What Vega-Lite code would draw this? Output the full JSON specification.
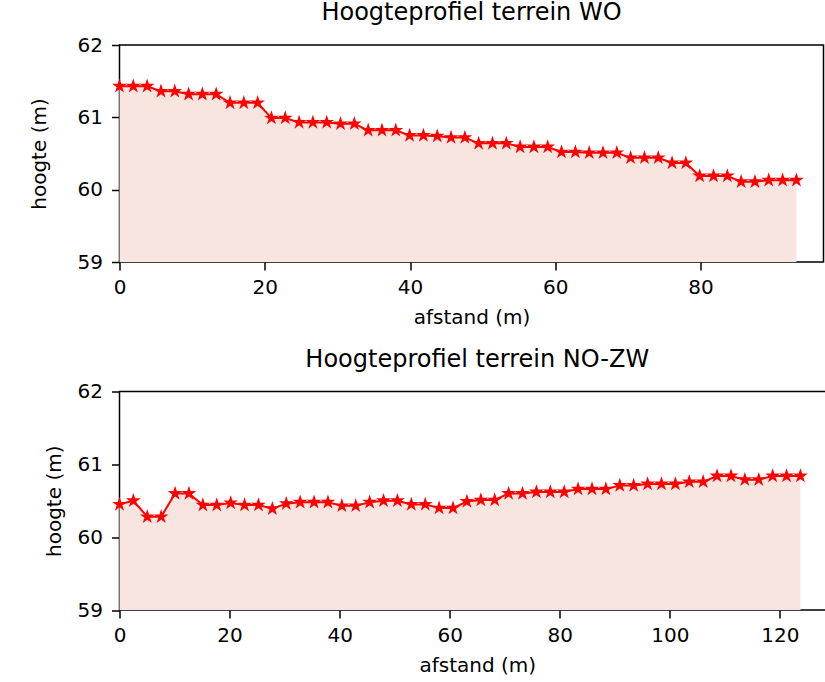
{
  "$schema": "https://vega.github.io/schema/vega-lite/v6.json",
  "padding": {"left": 28.5, "top": 0, "right": 0, "bottom": 0},
  "spacing": 18.5,
  "config": {
    "font": "DejaVu Sans",
    "view": {"stroke": "#000", "strokeWidth": 1.5},
    "axis": {"grid": false, "domain": false, "tickColor": "#000", "tickSize": 8, "tickWidth": 1.5, "labelColor": "#000", "labelFontSize": 20, "titleFontSize": 20, "titleFontWeight": "normal", "titleColor": "#000", "labelFont": "DejaVu Sans", "titleFont": "DejaVu Sans", "labelFlush": false},
    "axisX": {"labelPadding": 7, "titlePadding": 10},
    "axisY": {"labelPadding": 9, "titlePadding": 13},
    "title": {"fontSize": 24, "fontWeight": "normal", "color": "#000", "offset": 10, "frame": "group", "font": "DejaVu Sans"}
  },
  "vconcat": [
    {
      "title": "Hoogteprofiel terrein WO",
      "width": 704,
      "height": 217,
      "data": {"values": [
        {"afstand": 0, "hoogte": 61.43}, {"afstand": 1.9, "hoogte": 61.43}, {"afstand": 3.8, "hoogte": 61.43},
        {"afstand": 5.71, "hoogte": 61.36}, {"afstand": 7.61, "hoogte": 61.36}, {"afstand": 9.51, "hoogte": 61.32},
        {"afstand": 11.41, "hoogte": 61.32}, {"afstand": 13.31, "hoogte": 61.32}, {"afstand": 15.22, "hoogte": 61.2},
        {"afstand": 17.12, "hoogte": 61.2}, {"afstand": 19.02, "hoogte": 61.2}, {"afstand": 20.92, "hoogte": 60.99},
        {"afstand": 22.82, "hoogte": 60.99}, {"afstand": 24.73, "hoogte": 60.93}, {"afstand": 26.63, "hoogte": 60.93},
        {"afstand": 28.53, "hoogte": 60.93}, {"afstand": 30.43, "hoogte": 60.91}, {"afstand": 32.33, "hoogte": 60.91},
        {"afstand": 34.24, "hoogte": 60.82}, {"afstand": 36.14, "hoogte": 60.82}, {"afstand": 38.04, "hoogte": 60.82},
        {"afstand": 39.94, "hoogte": 60.75}, {"afstand": 41.84, "hoogte": 60.75}, {"afstand": 43.75, "hoogte": 60.74},
        {"afstand": 45.65, "hoogte": 60.72}, {"afstand": 47.55, "hoogte": 60.72}, {"afstand": 49.45, "hoogte": 60.64},
        {"afstand": 51.35, "hoogte": 60.64}, {"afstand": 53.26, "hoogte": 60.64}, {"afstand": 55.16, "hoogte": 60.59},
        {"afstand": 57.06, "hoogte": 60.59}, {"afstand": 58.96, "hoogte": 60.59}, {"afstand": 60.86, "hoogte": 60.52},
        {"afstand": 62.77, "hoogte": 60.52}, {"afstand": 64.67, "hoogte": 60.51}, {"afstand": 66.57, "hoogte": 60.51},
        {"afstand": 68.47, "hoogte": 60.51}, {"afstand": 70.37, "hoogte": 60.44}, {"afstand": 72.28, "hoogte": 60.44},
        {"afstand": 74.18, "hoogte": 60.44}, {"afstand": 76.08, "hoogte": 60.37}, {"afstand": 77.98, "hoogte": 60.37},
        {"afstand": 79.88, "hoogte": 60.19}, {"afstand": 81.79, "hoogte": 60.19}, {"afstand": 83.69, "hoogte": 60.19},
        {"afstand": 85.59, "hoogte": 60.11}, {"afstand": 87.49, "hoogte": 60.11}, {"afstand": 89.39, "hoogte": 60.13},
        {"afstand": 91.3, "hoogte": 60.13}, {"afstand": 93.2, "hoogte": 60.13}
      ]},
      "encoding": {
        "x": {"field": "afstand", "type": "quantitative", "scale": {"domain": [0, 96.93], "nice": false, "zero": false}, "axis": {"values": [0, 20, 40, 60, 80], "title": "afstand (m)"}},
        "y": {"field": "hoogte", "type": "quantitative", "scale": {"domain": [59, 62], "nice": false, "zero": false}, "axis": {"values": [59, 60, 61, 62], "title": "hoogte (m)", "minExtent": 57}}
      },
      "layer": [
        {"mark": {"type": "area", "color": "#f8e5df"}, "encoding": {"y2": {"datum": 59}}},
        {"mark": {"type": "line", "color": "#ff0000", "strokeWidth": 2}},
        {"mark": {"type": "point", "shape": "M0,-1L0.2245,-0.309L0.9511,-0.309L0.3633,0.118L0.5878,0.809L0,0.382L-0.5878,0.809L-0.3633,0.118L-0.9511,-0.309L-0.2245,-0.309Z", "size": 240, "filled": true, "color": "#ff0000", "opacity": 1}}
      ]
    },
    {
      "title": "Hoogteprofiel terrein NO-ZW",
      "width": 715.5,
      "height": 218.5,
      "data": {"values": [
        {"afstand": 0, "hoogte": 60.45}, {"afstand": 2.52, "hoogte": 60.5}, {"afstand": 5.05, "hoogte": 60.28},
        {"afstand": 7.57, "hoogte": 60.28}, {"afstand": 10.1, "hoogte": 60.6}, {"afstand": 12.62, "hoogte": 60.6},
        {"afstand": 15.15, "hoogte": 60.44}, {"afstand": 17.67, "hoogte": 60.44}, {"afstand": 20.2, "hoogte": 60.47},
        {"afstand": 22.72, "hoogte": 60.44}, {"afstand": 25.25, "hoogte": 60.44}, {"afstand": 27.77, "hoogte": 60.39},
        {"afstand": 30.3, "hoogte": 60.46}, {"afstand": 32.82, "hoogte": 60.48}, {"afstand": 35.35, "hoogte": 60.48},
        {"afstand": 37.87, "hoogte": 60.48}, {"afstand": 40.4, "hoogte": 60.43}, {"afstand": 42.92, "hoogte": 60.43},
        {"afstand": 45.45, "hoogte": 60.48}, {"afstand": 47.97, "hoogte": 60.5}, {"afstand": 50.5, "hoogte": 60.5},
        {"afstand": 53.02, "hoogte": 60.45}, {"afstand": 55.55, "hoogte": 60.45}, {"afstand": 58.07, "hoogte": 60.4},
        {"afstand": 60.6, "hoogte": 60.4}, {"afstand": 63.12, "hoogte": 60.49}, {"afstand": 65.65, "hoogte": 60.51},
        {"afstand": 68.17, "hoogte": 60.51}, {"afstand": 70.7, "hoogte": 60.6}, {"afstand": 73.22, "hoogte": 60.6},
        {"afstand": 75.75, "hoogte": 60.62}, {"afstand": 78.27, "hoogte": 60.62}, {"afstand": 80.8, "hoogte": 60.62},
        {"afstand": 83.32, "hoogte": 60.66}, {"afstand": 85.85, "hoogte": 60.66}, {"afstand": 88.37, "hoogte": 60.66},
        {"afstand": 90.9, "hoogte": 60.71}, {"afstand": 93.42, "hoogte": 60.71}, {"afstand": 95.95, "hoogte": 60.73},
        {"afstand": 98.47, "hoogte": 60.73}, {"afstand": 101, "hoogte": 60.73}, {"afstand": 103.52, "hoogte": 60.76},
        {"afstand": 106.05, "hoogte": 60.76}, {"afstand": 108.57, "hoogte": 60.84}, {"afstand": 111.1, "hoogte": 60.84},
        {"afstand": 113.62, "hoogte": 60.79}, {"afstand": 116.15, "hoogte": 60.79}, {"afstand": 118.67, "hoogte": 60.84},
        {"afstand": 121.2, "hoogte": 60.84}, {"afstand": 123.72, "hoogte": 60.84}
      ]},
      "encoding": {
        "x": {"field": "afstand", "type": "quantitative", "scale": {"domain": [0, 130], "nice": false, "zero": false}, "axis": {"values": [0, 20, 40, 60, 80, 100, 120], "title": "afstand (m)"}},
        "y": {"field": "hoogte", "type": "quantitative", "scale": {"domain": [59, 62], "nice": false, "zero": false}, "axis": {"values": [59, 60, 61, 62], "title": "hoogte (m)"}}
      },
      "layer": [
        {"mark": {"type": "area", "color": "#f8e5df"}, "encoding": {"y2": {"datum": 59}}},
        {"mark": {"type": "line", "color": "#ff0000", "strokeWidth": 2}},
        {"mark": {"type": "point", "shape": "M0,-1L0.2245,-0.309L0.9511,-0.309L0.3633,0.118L0.5878,0.809L0,0.382L-0.5878,0.809L-0.3633,0.118L-0.9511,-0.309L-0.2245,-0.309Z", "size": 240, "filled": true, "color": "#ff0000", "opacity": 1}}
      ]
    }
  ]
}
